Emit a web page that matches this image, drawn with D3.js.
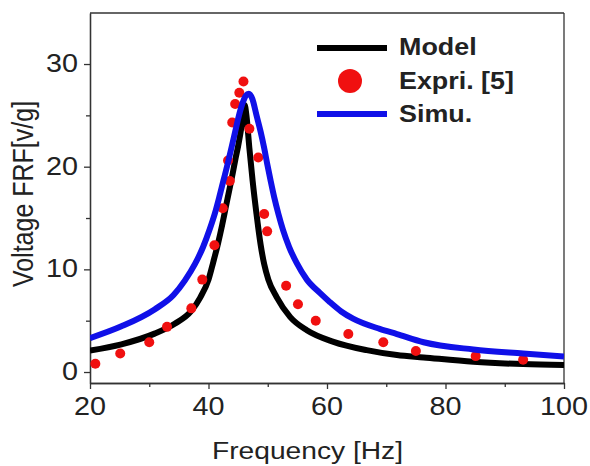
<!DOCTYPE html>
<html>
<head>
<meta charset="utf-8">
<script src="https://cdn.jsdelivr.net/npm/d3@7"></script>
<style>
html,body{margin:0;padding:0;background:#fff;}
svg{display:block;}
text{font-family:"Liberation Sans",Arial,sans-serif;}
</style>
</head>
<body>
<svg id="chart" width="590" height="466"></svg>
<script>
// ---- data ----
const modelFreq = [20, 25.3, 30.9, 34.3, 37.1, 38.6, 40.0, 40.8, 41.6, 42.3, 42.9, 43.5, 44.1, 44.6, 45.0, 45.6, 46.1, 46.4, 46.9, 47.45, 48.1, 48.8, 49.4, 50.1, 51.5, 53.8, 56.6, 61.1, 66.7, 71.8, 76.3, 84.7, 93.1, 100];
const modelVal  = [2.1, 2.7, 3.74, 4.7, 5.95, 7.25, 9.0, 10.7, 12.5, 14.3, 16.0, 17.7, 19.4, 20.9, 22.0, 24.0, 26.0, 25.0, 21.8, 18.6, 15.4, 12.4, 10.5, 9.0, 7.3, 5.35, 4.07, 2.94, 2.13, 1.65, 1.42, 1.0, 0.77, 0.68];

const simuFreq = [20, 25.3, 30.9, 34.1, 36.0, 37.7, 39.1, 40.2, 41.1, 41.8, 42.5, 43.2, 43.9, 44.5, 45.1, 45.7, 46.3, 46.8, 47.4, 48.1, 48.8, 49.4, 49.9, 50.5, 51.1, 51.8, 52.6, 53.6, 54.9, 56.6, 58.8, 60.5, 62.4, 64.4, 68.9, 71.8, 76.3, 84.7, 93.1, 100];
const simuVal  = [3.3, 4.45, 6.1, 7.5, 8.9, 10.5, 12.2, 13.9, 15.5, 17.0, 18.6, 20.2, 21.9, 23.4, 24.9, 26.1, 26.9, 27.1, 26.6, 25.0, 23.4, 21.8, 20.3, 18.6, 17.0, 15.4, 13.8, 12.2, 10.6, 9.0, 7.7, 6.8, 5.9, 5.2, 4.2, 3.7, 2.9, 2.2, 1.8, 1.5];

const exprFreq = [20.9, 25.1, 30.0, 33.0, 37.1, 38.95, 41.0, 42.4, 43.6, 43.3, 44.0, 44.5, 45.2, 45.9, 46.9, 48.4, 49.4, 49.9, 53.1, 55.1, 58.1, 63.6, 69.5, 75.0, 85.1, 93.1];
const exprVal  = [0.8, 1.8, 2.9, 4.4, 6.2, 9.0, 12.35, 15.95, 18.6, 20.6, 24.3, 26.1, 27.2, 28.3, 23.7, 20.9, 15.4, 13.7, 8.4, 6.6, 5.0, 3.7, 2.9, 2.05, 1.55, 1.2];

const xTicks = [20, 40, 60, 80, 100];
const xMinorTicks = [30, 50, 70, 90];
const yTicks = [0, 10, 20, 30];
const yMinorTicks = [5, 15, 25];
const legendLabels = ["Model", "Expri. [5]", "Simu."];
const xTitle = "Frequency [Hz]";
const yTitle = "Voltage FRF[v/g]";

// ---- drawing ----
(function(){
const svg = d3.select("#chart");
const SX = 1.15; // horizontal text stretch seen in reference
const pL = 90, pR = 564, pT = 13, pB = 383;

const x = d3.scaleLinear().domain([20, 100]).range([pL, pR]);
const y = d3.scaleLinear().domain([-1.07, 34.97]).range([pB, pT]);

const axisColor = "#333";

// frame top/right
svg.append("line").attr("x1", pL).attr("x2", pR).attr("y1", pT).attr("y2", pT)
  .attr("stroke", axisColor).attr("stroke-width", 1.3);
svg.append("line").attr("x1", pR).attr("x2", pR).attr("y1", pT).attr("y2", pB)
  .attr("stroke", axisColor).attr("stroke-width", 1.3);

// axes
function styleAxis(g){
  g.select(".domain").attr("stroke", axisColor).attr("stroke-width", 1.3);
  g.selectAll(".tick line").attr("stroke", axisColor).attr("stroke-width", 1.3);
  g.selectAll(".tick text").remove();
}
svg.append("g").attr("transform", `translate(0,${pB})`)
  .call(d3.axisBottom(x).tickValues(xTicks).tickSize(6).tickSizeOuter(0).tickFormat(""))
  .call(styleAxis);
svg.append("g").attr("transform", `translate(0,${pB})`)
  .call(d3.axisBottom(x).tickValues(xMinorTicks).tickSize(4).tickSizeOuter(0).tickFormat(""))
  .call(styleAxis);
svg.append("g").attr("transform", `translate(${pL},0)`)
  .call(d3.axisLeft(y).tickValues(yTicks).tickSize(6).tickSizeOuter(0).tickFormat(""))
  .call(styleAxis);
svg.append("g").attr("transform", `translate(${pL},0)`)
  .call(d3.axisLeft(y).tickValues(yMinorTicks).tickSize(4).tickSizeOuter(0).tickFormat(""))
  .call(styleAxis);

// tick labels
svg.append("g").selectAll("text").data(xTicks).join("text")
  .attr("transform", d => `translate(${x(d)},415) scale(${SX},1)`)
  .attr("text-anchor", "middle").attr("font-size", 25).attr("fill", "#222")
  .text(d => d);
svg.append("g").selectAll("text").data(yTicks).join("text")
  .attr("transform", d => `translate(78,${y(d) + 8}) scale(${SX},1)`)
  .attr("text-anchor", "end").attr("font-size", 25).attr("fill", "#222")
  .text(d => d);

// axis titles
svg.append("text")
  .attr("transform", `translate(307.5,459) scale(${SX},1)`)
  .attr("text-anchor", "middle").attr("font-size", 24.5).attr("fill", "#222")
  .text(xTitle);
svg.append("text")
  .attr("transform", `translate(33,194) scale(${SX},1) rotate(-90)`)
  .attr("text-anchor", "middle").attr("font-size", 25).attr("fill", "#222")
  .text(yTitle);

// clip
svg.append("clipPath").attr("id", "plotclip").append("rect")
  .attr("x", pL).attr("y", pT).attr("width", pR - pL).attr("height", pB - pT);
const plot = svg.append("g").attr("clip-path", "url(#plotclip)");

const line = d3.line().x(d => x(d[0])).y(d => y(d[1])).curve(d3.curveMonotoneX);

const modelData = modelFreq.map((f, i) => [f, modelVal[i]]);
const simuData = simuFreq.map((f, i) => [f, simuVal[i]]);
const exprData = exprFreq.map((f, i) => [f, exprVal[i]]);

plot.append("path").datum(modelData).attr("d", line)
  .attr("fill", "none").attr("stroke", "#000").attr("stroke-width", 6).attr("stroke-linejoin", "round");

plot.append("g").selectAll("circle").data(exprData).join("circle")
  .attr("cx", d => x(d[0])).attr("cy", d => y(d[1])).attr("r", 5)
  .attr("fill", "#f01010");

plot.append("path").datum(simuData).attr("d", line)
  .attr("fill", "none").attr("stroke", "#1010e8").attr("stroke-width", 6).attr("stroke-linejoin", "round");

// legend
const lg = svg.append("g");
lg.append("line").attr("x1", 317).attr("x2", 387).attr("y1", 48).attr("y2", 48)
  .attr("stroke", "#000").attr("stroke-width", 6);
lg.append("circle").attr("cx", 350).attr("cy", 81).attr("r", 12).attr("fill", "#f01010");
lg.append("line").attr("x1", 317).attr("x2", 387).attr("y1", 114).attr("y2", 114)
  .attr("stroke", "#1010e8").attr("stroke-width", 6);
const lgY = [55, 89, 122];
lg.selectAll("text.lt").data(legendLabels).join("text")
  .attr("class", "lt")
  .attr("transform", (d, i) => `translate(399,${lgY[i]}) scale(1.12,1)`)
  .attr("font-size", 24).attr("font-weight", "bold").attr("fill", "#222")
  .text(d => d);
})();
</script>
</body>
</html>
